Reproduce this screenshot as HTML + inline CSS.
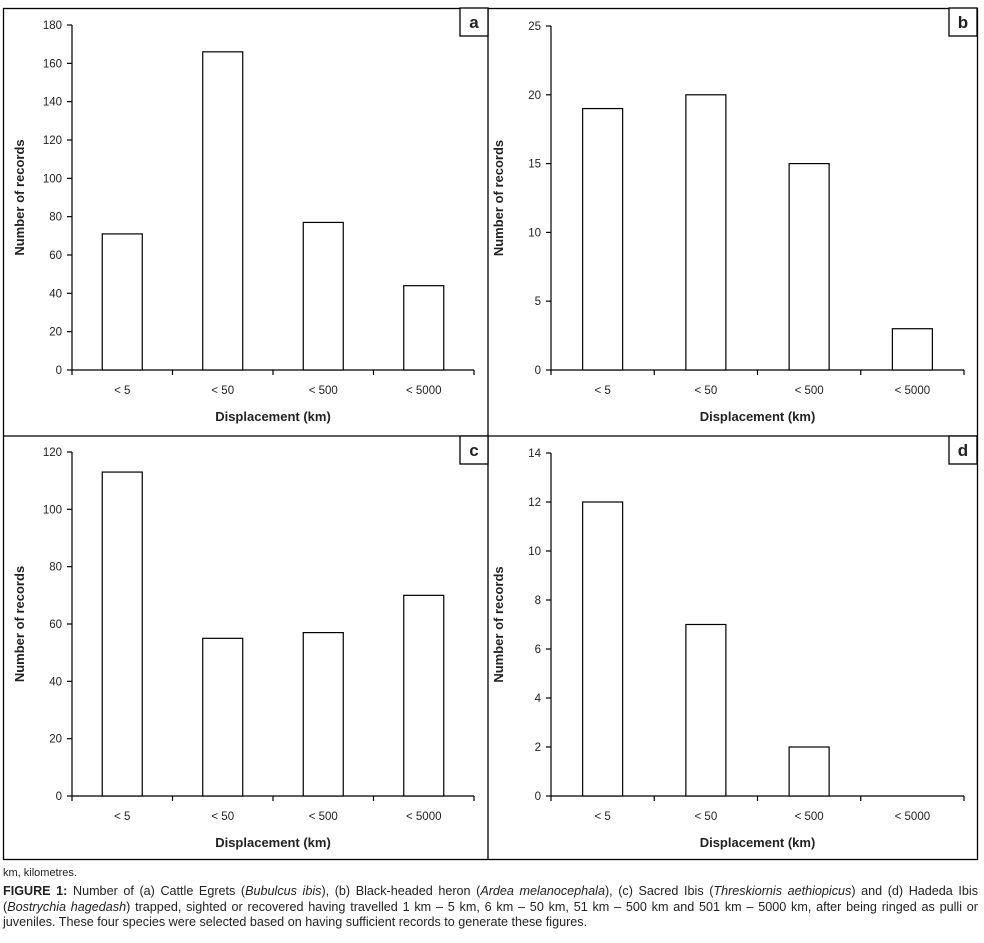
<!DOCTYPE html>
<html><head><meta charset="utf-8"><style>
body{margin:0;background:#fff;width:984px;height:943px;overflow:hidden;font-family:"Liberation Sans",sans-serif}
svg{position:absolute;left:0;top:0}
.cap{position:absolute;left:3px;font-size:12.6px;color:#222;line-height:15.5px;width:975px}
</style></head><body>
<svg id="chart" width="984" height="943"></svg>
<div class="cap" style="top:866px;font-size:11px">km, kilometres.</div>
<div class="cap" style="top:884px;text-align:justify"><b>FIGURE 1:</b> Number of (a) Cattle Egrets (<i>Bubulcus ibis</i>), (b) Black-headed heron (<i>Ardea melanocephala</i>), (c) Sacred Ibis (<i>Threskiornis aethiopicus</i>) and (d) Hadeda Ibis (<i>Bostrychia hagedash</i>) trapped, sighted or recovered having travelled 1 km – 5 km, 6 km – 50 km, 51 km – 500 km and 501 km – 5000 km, after being ringed as pulli or juveniles. These four species were selected based on having sufficient records to generate these figures.</div>
<script>
const categories = ["< 5", "< 50", "< 500", "< 5000"];
const valuesA = [71, 166, 77, 44];
const valuesB = [19, 20, 15, 3];
const valuesC = [113, 55, 57, 70];
const valuesD = [12, 7, 2, 0];
const ticksA = [0,20,40,60,80,100,120,140,160,180];
const ticksB = [0,5,10,15,20,25];
const ticksC = [0,20,40,60,80,100,120];
const ticksD = [0,2,4,6,8,10,12,14];
const panelLabels = ["a","b","c","d"];

const NS="http://www.w3.org/2000/svg";
const svg=document.getElementById('chart');
function mk(tag,attrs,parent){const e=document.createElementNS(NS,tag);for(const k in attrs)e.setAttribute(k,attrs[k]);(parent||svg).appendChild(e);return e;}

const frame=mk('rect',{x:3.5,y:8.5,width:974,height:851,fill:'none',stroke:'#000','stroke-width':1.3});


mk('line',{x1:488,y1:8,x2:488,y2:860,stroke:'#000','stroke-width':1.3});
mk('line',{x1:3,y1:436,x2:978,y2:436,stroke:'#000','stroke-width':1.3});

const panels=[
 {vals:valuesA,ticks:ticksA,x0:72,x1:474,yTop:25,yBot:370,box:[460,8]},
 {vals:valuesB,ticks:ticksB,x0:551,x1:964,yTop:26,yBot:370,box:[949,8]},
 {vals:valuesC,ticks:ticksC,x0:72,x1:474,yTop:452,yBot:796,box:[460,436]},
 {vals:valuesD,ticks:ticksD,x0:551,x1:964,yTop:453,yBot:796,box:[949,436]}
];
panels.forEach((p,pi)=>{
 const g=mk('g',{});
 
 
 const max=p.ticks[p.ticks.length-1];
 const yS=v=>p.yBot-(v/max)*(p.yBot-p.yTop);
 const bw=(p.x1-p.x0)/categories.length;
 const xS=i=>p.x0+bw*(i+0.5);
 mk('line',{x1:p.x0,y1:p.yTop,x2:p.x0,y2:p.yBot,stroke:'#000','stroke-width':1.2},g);
 mk('line',{x1:p.x0,y1:p.yBot,x2:p.x1,y2:p.yBot,stroke:'#000','stroke-width':1.2},g);
 p.ticks.forEach(t=>{
  const y=yS(t);
  mk('line',{x1:p.x0-5,y1:y,x2:p.x0,y2:y,stroke:'#000','stroke-width':1.2},g);
  const tx=mk('text',{x:p.x0-10,y:y+4,'text-anchor':'end','font-size':11.5,fill:'#222'},g);
  tx.textContent=t;
  
  
 });
 for(let i=0;i<=categories.length;i++){
  const x=p.x0+bw*i;
  mk('line',{x1:x,y1:p.yBot,x2:x,y2:p.yBot+5,stroke:'#000','stroke-width':1.2},g);
 }
 categories.forEach((c,i)=>{
  const v=p.vals[i];
  const r=mk('rect',{x:xS(i)-20,y:yS(v),width:40,height:p.yBot-yS(v),fill:'#fff',stroke:'#000','stroke-width':1.2},g);
  
  
  const tx=mk('text',{x:xS(i),y:p.yBot+24,'text-anchor':'middle','font-size':11.5,fill:'#222'},g);
  tx.textContent=c;
  
  
 });
 const xt=mk('text',{x:(p.x0+p.x1)/2,y:p.yBot+51,'text-anchor':'middle','font-size':13,'font-weight':'bold',fill:'#222'},g);
 xt.textContent='Displacement (km)';
 
 
 const cy=(p.yTop+p.yBot)/2, cx=p.x0-48;
 const yt=mk('text',{x:cx,y:cy,'text-anchor':'middle','font-size':13,'font-weight':'bold',fill:'#222',transform:`rotate(-90 ${cx} ${cy})`},g);
 yt.textContent='Number of records';
 
 
 const lb=mk('rect',{x:p.box[0],y:p.box[1],width:28,height:28,fill:'#fff',stroke:'#000','stroke-width':1.3},g);
 
 
 const lt=mk('text',{x:p.box[0]+14,y:p.box[1]+20,'text-anchor':'middle','font-size':17,'font-weight':'bold',fill:'#222'},g);
 lt.textContent=panelLabels[pi];
 
 
});
</script>
</body></html>
